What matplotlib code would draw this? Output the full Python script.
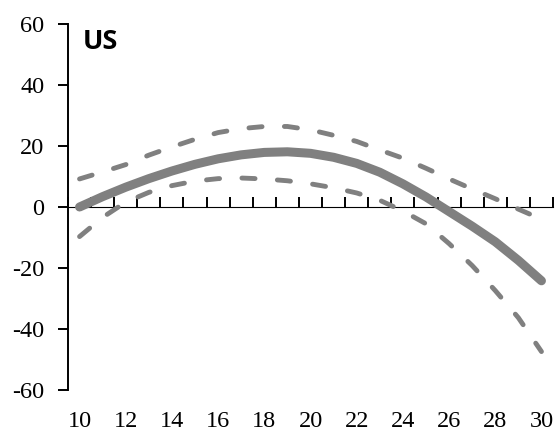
import matplotlib.pyplot as plt

plt.rcParams['axes.unicode_minus'] = False

# horizon (years) and estimated effect with its band
ages = list(range(10, 31))
estimate = [0.0, 3.4, 6.5, 9.3, 11.8, 14.0, 15.8, 17.1, 17.9, 18.1, 17.6,
            16.3, 14.3, 11.4, 7.6, 3.3, -1.5, -6.3, -11.4, -17.5, -24.2]
upper = [9.2, 11.5, 13.9, 17.0, 19.7, 22.2, 24.4, 25.7, 26.4, 26.4, 25.3,
         23.5, 21.5, 18.7, 16.0, 12.7, 9.2, 5.9, 2.7, -0.7, -4.0]
lower = [-9.7, -3.4, 1.6, 4.8, 7.0, 8.5, 9.3, 9.5, 9.2, 8.6, 7.6,
         6.3, 4.6, 2.2, -1.3, -5.5, -12.0, -19.2, -27.4, -36.3, -47.4]
x_labels = list(range(10, 31, 2))
y_ticks = list(range(-60, 61, 20))

gray = '#808080'
fig = plt.figure(figsize=(5.6, 4.33), dpi=100)
ax = fig.add_axes([68 / 560, 1 - 390 / 433, 485 / 560, 366 / 433])

for band in (upper, lower):
    ax.plot(ages, band, color=gray, lw=3.5, dashes=(2.7, 4.6),
            dash_capstyle='round', solid_capstyle='round',
            dash_joinstyle='round')
ax.plot(ages, estimate, color=gray, lw=6.5, solid_capstyle='round',
        solid_joinstyle='round')

ax.set_xlim(ages[0] - 0.5, ages[-1] + 0.5)
ax.set_ylim(-60, 60)

# left axis
ax.spines['top'].set_visible(False)
ax.spines['right'].set_visible(False)
ax.spines['bottom'].set_visible(False)
ax.spines['left'].set_linewidth(1.4)
ax.set_yticks(y_ticks)
ax.tick_params(axis='y', direction='out', length=7, width=1.4, pad=10,
               labelsize=17.5)

# category labels along the bottom, no marks
ax.set_xticks(x_labels)
ax.tick_params(axis='x', length=0, pad=15, labelsize=17.5)
for lab in ax.get_xticklabels() + ax.get_yticklabels():
    lab.set_fontfamily('Liberation Serif')

# horizontal axis line through zero with category boundary ticks
ymin, ymax = ax.get_ylim()
zero_ax = ax.secondary_xaxis((0 - ymin) / (ymax - ymin))
zero_ax.spines['bottom'].set_linewidth(1.4)
zero_ax.set_xticks([a - 0.5 for a in ages] + [ages[-1] + 0.5])
zero_ax.set_xticklabels([])
zero_ax.tick_params(direction='out', length=7, width=1.4)

ax.text(0.03, 0.95, 'US', transform=ax.transAxes, fontsize=19.5,
        fontweight='bold', family='Open Sans', ha='left', va='center')

fig.savefig('out.png', dpi=100)
